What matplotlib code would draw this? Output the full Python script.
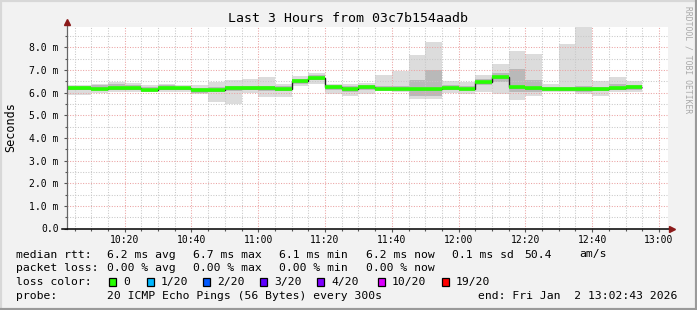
import matplotlib
matplotlib.use('Agg')
import matplotlib.pyplot as plt
import matplotlib.dates as mdates
from matplotlib.patches import Rectangle
from matplotlib.lines import Line2D
import pandas as pd

# 5-minute bins; the first one is cut by the left edge of the graph (34 bins)
bin_edges = pd.DatetimeIndex(['2026-01-02 10:00']).append(
    pd.date_range('2026-01-02 10:10', '2026-01-02 12:55', freq='5min'))
t_start = pd.Timestamp('2026-01-02 10:02:43')
t_end = pd.Timestamp('2026-01-02 13:02:43')

# median rtt per bin (ms)
median_ms = [6.19, 6.16, 6.19, 6.19, 6.13, 6.22, 6.19, 6.13, 6.13, 6.19,
             6.19, 6.19, 6.16, 6.52, 6.64, 6.23, 6.15, 6.23, 6.18, 6.18,
             6.15, 6.15, 6.21, 6.18, 6.49, 6.67, 6.25, 6.19, 6.16, 6.15,
             6.16, 6.15, 6.19, 6.24]
# smoke: outer min / max
smoke_min = [5.88, 5.99, 6.03, 6.05, 6.03, 6.05, 6.03, 5.92, 5.59, 5.52,
             5.99, 5.81, 5.81, 6.28, 6.40, 5.92, 5.84, 5.93, 6.08, 6.03,
             5.74, 5.74, 5.99, 5.92, 6.03, 5.93, 5.66, 5.84, 6.03, 6.03,
             5.96, 5.84, 6.03, 6.03]
smoke_max = [6.33, 6.40, 6.47, 6.42, 6.33, 6.38, 6.33, 6.33, 6.47, 6.55,
             6.59, 6.69, 6.40, 6.73, 6.87, 6.40, 6.40, 6.43, 6.77, 6.96,
             7.65, 8.24, 6.52, 6.47, 6.77, 7.26, 7.85, 7.70, 6.37, 8.14,
             8.90, 6.52, 6.67, 6.52]
# smoke: inner (darker) band
smoke_lo = [6.10, 6.10, 6.12, 6.12, 6.08, 6.12, 6.12, 5.98, 6.03, 6.08,
            6.10, 6.08, 6.08, 6.40, 6.55, 6.10, 6.05, 6.12, 6.12, 6.10,
            5.85, 5.85, 6.10, 6.10, 6.35, 6.45, 6.05, 6.05, 6.10, 6.08,
            6.05, 6.08, 6.10, 6.12]
smoke_hi = [6.28, 6.33, 6.38, 6.33, 6.25, 6.33, 6.27, 6.22, 6.25, 6.30,
            6.30, 6.30, 6.30, 6.62, 6.78, 6.33, 6.28, 6.33, 6.30, 6.30,
            6.55, 7.00, 6.35, 6.30, 6.62, 6.85, 7.05, 6.55, 6.27, 6.27,
            6.30, 6.25, 6.38, 6.35]

y_max = 8.9
major_labels = ['0.0', '1.0 m', '2.0 m', '3.0 m', '4.0 m', '5.0 m', '6.0 m', '7.0 m', '8.0 m']

loss_labels = ['0', '1/20', '2/20', '3/20', '4/20', '10/20', '19/20']
loss_colors = ['#26ff00', '#00b8ff', '#0059ff', '#5e00ff', '#7e00ff', '#dd00ff', '#ff0000']

W, H = 697, 310
MONO = 'DejaVu Sans Mono'
BG = '#f2f2f2'

fig = plt.figure(figsize=(W / 100, H / 100), dpi=100, facecolor=BG)

# plot area in pixels: x 67..668, y 27..228.5
L, R, T, B = 67, 668, 27, 228.5
ax = fig.add_axes([L / W, 1 - B / H, (R - L) / W, (B - T) / H])
ax.set_facecolor('white')

edges = mdates.date2num(bin_edges.to_pydatetime())

# smoke
ax.stairs(smoke_max, edges, baseline=smoke_min, fill=True, color='#dcdcdc', lw=0, zorder=1)
ax.stairs(smoke_hi, edges, baseline=smoke_lo, fill=True, color='#b9b9b9', lw=0, zorder=1.1)

# median: dark step line, then loss colour on top
ax.stairs(median_ms, edges, baseline=None, color='#202020', lw=1.0, zorder=4)
ax.hlines(median_ms, edges[:-1], edges[1:], colors=loss_colors[0], lw=2.6, zorder=5)

ax.set_xlim(mdates.date2num(t_start), mdates.date2num(t_end))
ax.set_ylim(0, y_max)

# grid
ax.xaxis.set_major_locator(mdates.MinuteLocator(byminute=[0, 20, 40]))
ax.xaxis.set_minor_locator(mdates.MinuteLocator(byminute=range(0, 60, 5)))
ax.xaxis.set_major_formatter(mdates.DateFormatter('%H:%M'))
ax.set_yticks(range(0, 9))
ax.set_yticklabels(major_labels)
ax.set_yticks([i + 0.5 for i in range(0, 9)], minor=True)

dots = (0, (1, 1.5))
ax.grid(which='minor', color='#c8c8c8', linestyle=dots, lw=0.75)
ax.grid(which='major', color='#eba3a3', linestyle=dots, lw=0.75)
ax.set_axisbelow(False)
for ln in ax.get_xgridlines() + ax.get_ygridlines():
    ln.set_zorder(2)

ax.tick_params(which='both', labelsize=7, colors='#555555', labelcolor='black')
ax.tick_params(axis='y', which='major', length=2.5, pad=3.5, width=0.8)
ax.tick_params(axis='y', which='minor', length=1.5, width=0.8)
ax.tick_params(axis='x', which='major', length=2.5, pad=2.0, width=0.8)
ax.tick_params(axis='x', which='minor', length=1.5, width=0.8)
for lab in ax.get_xticklabels() + ax.get_yticklabels():
    lab.set_family(MONO)

for s in ax.spines.values():
    s.set_visible(False)

# axes with arrows
ax.add_line(Line2D([0, 0], [0, 1.025], transform=ax.transAxes, color='#666666',
                   lw=0.9, clip_on=False, zorder=6))
ax.add_line(Line2D([-0.008, 1.007], [0, 0], transform=ax.transAxes, color='black',
                   lw=1.1, clip_on=False, zorder=6))
ax.plot([0], [1.025], marker='^', color='#8b1a1a', markersize=4.5, transform=ax.transAxes,
        clip_on=False, zorder=7)
ax.plot([1.007], [0], marker='>', color='#8b1a1a', markersize=4.5, transform=ax.transAxes,
        clip_on=False, zorder=7)


def ftext(x, y, s, **kw):
    kw.setdefault('family', MONO)
    kw.setdefault('va', 'center')
    kw.setdefault('ha', 'left')
    fig.text(x / W, 1 - y / H, s, **kw)


ftext(348, 19, 'Last 3 Hours from 03c7b154aadb', ha='center', size=9.5)
ftext(11, 127, 'Seconds', ha='center', rotation=90, size=8.5)
ftext(688, 60, 'RRDTOOL / TOBI OETIKER', ha='center', rotation=270, size=5.8, color='#a8a8a8')

# legend lines
fs = 8.2
cols = [16, 107, 193, 279, 366, 452, 524, 579]
ftext(cols[0], 254.5, 'median rtt:', size=fs)
ftext(cols[1], 254.5, '6.2 ms avg', size=fs)
ftext(cols[2], 254.5, '6.7 ms max', size=fs)
ftext(cols[3], 254.5, '6.1 ms min', size=fs)
ftext(cols[4], 254.5, '6.2 ms now', size=fs)
ftext(cols[5], 254.5, '0.1 ms sd', size=fs)
ftext(cols[6], 254.5, '50.4', size=fs)
ftext(cols[7], 254.5, 'am/s', size=fs)

ftext(cols[0], 268.3, 'packet loss:', size=fs)
ftext(cols[1], 268.3, '0.00 % avg', size=fs)
ftext(cols[2], 268.3, '0.00 % max', size=fs)
ftext(cols[3], 268.3, '0.00 % min', size=fs)
ftext(cols[4], 268.3, '0.00 % now', size=fs)

ftext(cols[0], 282.3, 'loss color:', size=fs)
box_x = [109, 147, 203, 260, 317, 378, 442]
for bx, lab, col in zip(box_x, loss_labels, loss_colors):
    fig.add_artist(Rectangle((bx / W, 1 - 286 / H), 7 / W, 8 / H, transform=fig.transFigure,
                             facecolor=col, edgecolor='black', lw=0.9))
    ftext(bx + 14, 282.3, lab, size=fs)

ftext(cols[0], 296, 'probe:', size=fs)
ftext(cols[1], 296, '20 ICMP Echo Pings (56 Bytes) every 300s', size=fs)
ftext(478, 296, 'end: Fri Jan  2 13:02:43 2026', size=fs)

# 3D-style frame
fig.add_artist(Line2D([0, 0], [0, 1], transform=fig.transFigure, color='#d8d8d8', lw=3))
fig.add_artist(Line2D([0, 1], [1, 1], transform=fig.transFigure, color='#d8d8d8', lw=3))
fig.add_artist(Line2D([1, 1], [0, 1], transform=fig.transFigure, color='#9a9a9a', lw=3))
fig.add_artist(Line2D([0, 1], [0, 0], transform=fig.transFigure, color='#9a9a9a', lw=3))

fig.savefig('out.png', dpi=100, facecolor=BG)
